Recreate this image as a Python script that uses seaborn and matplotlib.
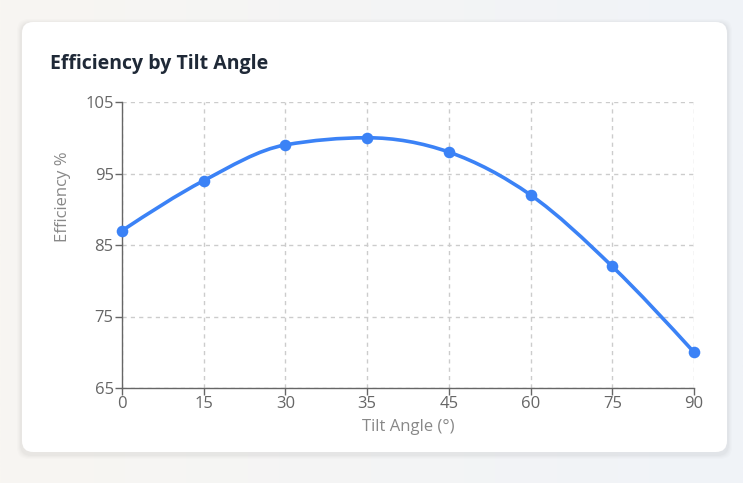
import numpy as np
import pandas as pd
import matplotlib
matplotlib.use("Agg")
import matplotlib.pyplot as plt
import seaborn as sns
from matplotlib.path import Path
from matplotlib.patches import PathPatch, FancyBboxPatch

# данные
tilt_labels = ["0", "15", "30", "35", "45", "60", "75", "90"]
efficiency = [87, 94, 99, 100, 98, 92, 82, 70]
y_ticks = [65, 75, 85, 95, 105]

BLUE = "#3b82f6"

sns.set_theme(style="white")
plt.rcParams["font.family"] = ["Open Sans", "DejaVu Sans"]

df = pd.DataFrame({"pos": np.arange(len(tilt_labels)), "eff": efficiency})

fig = plt.figure(figsize=(7.43, 4.83), dpi=100)

# фон страницы: мягкий градиент слева направо
bg = fig.add_axes([0, 0, 1, 1], zorder=-10)
grad = np.linspace(0, 1, 256)[None, :, None]
left_c = np.array([248, 246, 242]) / 255
right_c = np.array([240, 243, 248]) / 255
bg.imshow(left_c + (right_c - left_c) * grad, aspect="auto", extent=[0, 1, 0, 1])
bg.set_xlim(0, 1)
bg.set_ylim(0, 1)
bg.axis("off")

# карточка с мягкой тенью
W, H = 743, 483
for i, a in enumerate([0.010, 0.012, 0.015, 0.018]):
    off = 5 - i
    bg.add_patch(FancyBboxPatch(((22 - off) / W, (483 - 452 - off - 2) / H),
                                (705 + 2 * off) / W, (430 + 2 * off) / H,
                                boxstyle="round,pad=0,rounding_size=0.015",
                                fc="black", ec="none", alpha=a,
                                mutation_aspect=W / H))
bg.add_patch(FancyBboxPatch((22 / W, (483 - 452) / H), 705 / W, 430 / H,
                            boxstyle="round,pad=0,rounding_size=0.015",
                            fc="white", ec="none", mutation_aspect=W / H))

fig.text(50 / W, 1 - 64 / H, "Efficiency by Tilt Angle", fontsize=14,
         fontweight="bold", color="#1f2937", va="center", ha="left")

ax = fig.add_axes([122 / W, 1 - 388 / H, (694 - 122) / W, (388 - 102) / H])
ax.set_facecolor("none")

# плавная кривая (monotone X, как в d3)
x = df["pos"].to_numpy(dtype=float)
y = df["eff"].to_numpy(dtype=float)
h = np.diff(x)
s = np.diff(y) / h
t = np.zeros_like(y)
for i in range(1, len(y) - 1):
    if s[i - 1] * s[i] <= 0:
        t[i] = 0
    else:
        p = (s[i - 1] * h[i] + s[i] * h[i - 1]) / (h[i - 1] + h[i])
        t[i] = (np.sign(s[i - 1]) + np.sign(s[i])) * min(abs(s[i - 1]), abs(s[i]), 0.5 * abs(p))
t[0] = (3 * s[0] - t[1]) / 2
t[-1] = (3 * s[-1] - t[-2]) / 2
verts = [(x[0], y[0])]
codes = [Path.MOVETO]
for i in range(len(x) - 1):
    d = h[i] / 3
    verts += [(x[i] + d, y[i] + d * t[i]), (x[i + 1] - d, y[i + 1] - d * t[i + 1]), (x[i + 1], y[i + 1])]
    codes += [Path.CURVE4] * 3
ax.add_patch(PathPatch(Path(verts, codes), fc="none", ec=BLUE, lw=2.6,
                       capstyle="round", joinstyle="round", zorder=3))

sns.scatterplot(data=df, x="pos", y="eff", ax=ax, color=BLUE, s=70,
                edgecolor=BLUE, linewidth=0, zorder=4, clip_on=False)

ax.set_xlim(0, len(tilt_labels) - 1)
ax.set_ylim(65, 105)
ax.set_xticks(df["pos"])
ax.set_xticklabels(tilt_labels)
ax.set_yticks(y_ticks)
ax.grid(True, color="#cccccc", linestyle=(0, (3, 3)), linewidth=1)
ax.set_axisbelow(True)
for side in ["top", "right"]:
    ax.spines[side].set_visible(False)
for side in ["left", "bottom"]:
    ax.spines[side].set_color("#666666")
    ax.spines[side].set_linewidth(1)
ax.tick_params(axis="both", which="both", length=5, width=1, color="#666666",
               labelcolor="#666666", labelsize=12, pad=1, direction="out",
               bottom=True, left=True)
ax.set_xlabel("Tilt Angle (°)", fontsize=12, color="#888888")
ax.xaxis.set_label_coords(0.5, -0.108)
ax.set_ylabel("Efficiency %", fontsize=12, color="#888888")
ax.yaxis.set_label_coords(-0.09, 0.67)

fig.savefig("out.png", dpi=100)
